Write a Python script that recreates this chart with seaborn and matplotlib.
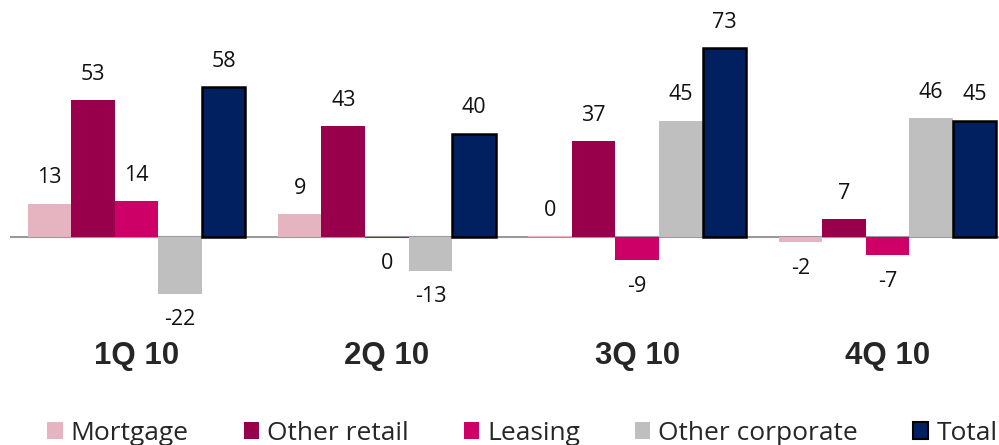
import pandas as pd
import matplotlib.pyplot as plt
import seaborn as sns
from matplotlib.patches import Patch

# dados do gráfico
quarters = ["1Q 10", "2Q 10", "3Q 10", "4Q 10"]
series = ["Mortgage", "Other retail", "Leasing", "Other corporate", "Total"]
mortgage = [13, 9, 0.4, -2]
other_retail = [53, 43, 37, 7]
leasing = [14, -0.2, -9, -7]
other_corporate = [-22, -13, 45, 46]
total = [58, 40, 73, 45]

cores = ["#E6B3C1", "#99004C", "#CC0066", "#BFBFBF", "#002060"]

valores = [mortgage, other_retail, leasing, other_corporate, total]
linhas = []
for s, vals in zip(series, valores):
    for q, v in zip(quarters, vals):
        linhas.append({"quarter": q, "series": s, "value": v})
df = pd.DataFrame(linhas)

sns.set_style("white")
plt.rcParams['font.family'] = ['Open Sans', 'DejaVu Sans']

fig = plt.figure(figsize=(9.99, 4.45), dpi=100)
ax = fig.add_axes([10 / 999, 115 / 445, 1 - 10 / 999, 330 / 445])

sns.barplot(data=df, x="quarter", y="value", hue="series", hue_order=series,
            order=quarters, palette=cores, width=0.87, saturation=1,
            ax=ax, legend=False, errorbar=None)

# sem bordas, exceto "Total" com borda preta
for i, cont in enumerate(ax.containers):
    for barra in cont:
        if i == 4:
            barra.set_edgecolor("black")
            barra.set_linewidth(1.8)
        else:
            barra.set_linewidth(0)

# rótulos de dados
for cont in ax.containers:
    for barra in cont:
        v = barra.get_height()
        x = barra.get_x() + barra.get_width() / 2
        txt = str(int(round(v)))
        if v >= 0:
            ax.annotate(txt, (x, v), xytext=(0, 11), textcoords="offset points",
                        ha="center", va="bottom", fontsize=15.5, color="#111111")
        else:
            ax.annotate(txt, (x, v), xytext=(0, -11), textcoords="offset points",
                        ha="center", va="top", fontsize=15.5, color="#111111")

ax.axhline(0, color="#999999", linewidth=1.5, zorder=0)
ax.set_ylim(-35.9, 91.7)
ax.set_xlim(-0.505, 3.445)
ax.set_yticks([])
ax.set_xlabel("")
ax.set_ylabel("")
ax.tick_params(axis="x", length=0, pad=8)
for lbl in ax.get_xticklabels():
    lbl.set_fontfamily("Liberation Sans")
    lbl.set_fontweight("bold")
    lbl.set_fontsize(22.5)
sns.despine(ax=ax, left=True, bottom=True)

# legenda
handles = []
for s, c in zip(series, cores):
    ec = "black" if s == "Total" else c
    handles.append(Patch(facecolor=c, edgecolor=ec, linewidth=1.5 if s == "Total" else 0, label=s))
fig.legend(handles=handles, loc="lower center", bbox_to_anchor=(0.523, -0.055), ncol=5,
           frameon=False, fontsize=19, handlelength=0.57, handleheight=0.57,
           handletextpad=0.3, columnspacing=2.1)

plt.savefig("out.png", dpi=100)
